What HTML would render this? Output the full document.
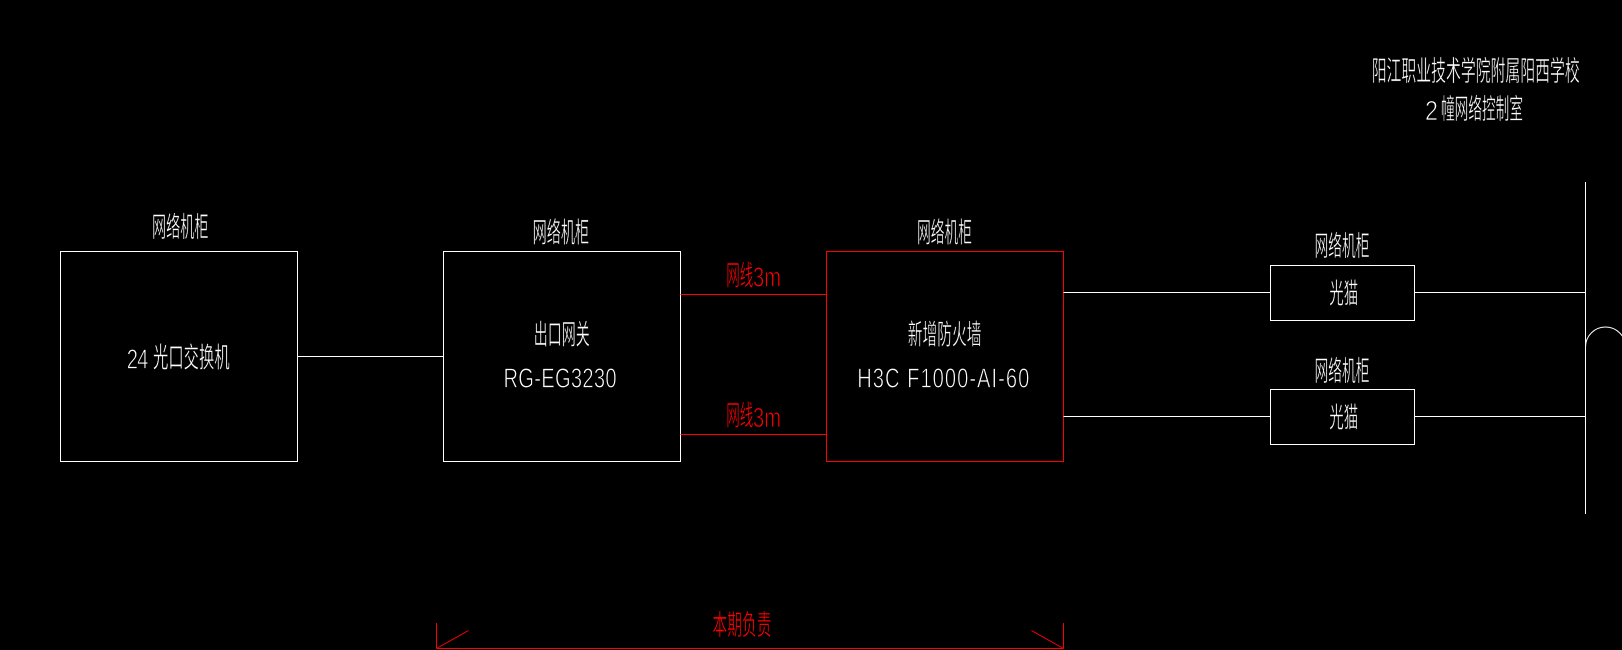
<!DOCTYPE html>
<html><head><meta charset="utf-8"><style>
html,body{margin:0;padding:0;background:#000;width:1622px;height:650px;overflow:hidden}
svg{display:block}
text{font-family:"Noto Sans CJK SC","WenQuanYi Zen Hei",sans-serif;font-size:28px;fill:#fff;stroke:#000;stroke-width:.5px}
text.l{font-family:"Liberation Sans",sans-serif;stroke-width:.8px}
text.r{fill:#f00}
.w{stroke:#fff;stroke-width:1;fill:none;shape-rendering:crispEdges}
.o{stroke:#f00;stroke-width:1;fill:none;shape-rendering:crispEdges}
</style></head><body>
<svg xmlns="http://www.w3.org/2000/svg" width="1622" height="650" viewBox="0 0 1622 650">
<rect width="1622" height="650" fill="#000"/>
<rect class="w" x="60.5" y="251.5" width="237" height="210"/>
<rect class="w" x="443.5" y="251.5" width="237" height="210"/>
<rect class="o" x="826.5" y="251.5" width="237" height="210"/>
<rect class="w" x="1270.5" y="265.5" width="144" height="55"/>
<rect class="w" x="1270.5" y="389.5" width="144" height="55"/>
<path class="w" d="M297.5 356.5H443.5M1063.5 292.5H1270.5M1063.5 416.5H1270.5M1414.5 292.5H1585.5M1414.5 416.5H1585.5M1585.5 182V514"/>
<path class="o" d="M680.5 294.5H826.5M680.5 434.5H826.5M436.5 623V648.5M1063.5 623V648.5M436.5 648.5H1063.5"/>
<path d="M436.5 648.5L468.5 630.5M1063.5 648.5L1031.5 630.5" stroke="#f00" stroke-width="1" fill="none"/>
<path d="M1585.5 347A20 20 0 0 1 1625.5 347" stroke="#fff" stroke-width="1" fill="none"/>

<text x="1371.7" y="80.5" textLength="208" lengthAdjust="spacingAndGlyphs">阳江职业技术学院附属阳西学校</text>
<text class="l" x="1425" y="120" textLength="13" lengthAdjust="spacingAndGlyphs">2</text>
<text x="1441" y="118.5" textLength="82" lengthAdjust="spacingAndGlyphs">幢网络控制室</text>

<text x="152" y="236.5" textLength="56.5" lengthAdjust="spacingAndGlyphs">网络机柜</text>
<text x="532.6" y="242" textLength="56.5" lengthAdjust="spacingAndGlyphs">网络机柜</text>
<text x="917" y="242" textLength="55" lengthAdjust="spacingAndGlyphs">网络机柜</text>
<text x="1314.5" y="255.5" textLength="55" lengthAdjust="spacingAndGlyphs">网络机柜</text>
<text x="1314.5" y="380.5" textLength="55" lengthAdjust="spacingAndGlyphs">网络机柜</text>

<text class="l" transform="translate(126.7 368.5) scale(.72 1)" textLength="30" lengthAdjust="spacing">24</text>
<text x="153" y="367" textLength="76.7" lengthAdjust="spacingAndGlyphs">光口交换机</text>

<text x="533.8" y="344" textLength="56" lengthAdjust="spacingAndGlyphs">出口网关</text>
<text class="l" transform="translate(503.5 387.5) scale(.72 1)" textLength="157" lengthAdjust="spacing">RG-EG3230</text>

<text x="907.8" y="344" textLength="73.7" lengthAdjust="spacingAndGlyphs">新增防火墙</text>
<text class="l" transform="translate(857.2 387.5) scale(.72 1)" textLength="239" lengthAdjust="spacing">H3C F1000-AI-60</text>

<text class="r" x="726.3" y="285" textLength="27" lengthAdjust="spacingAndGlyphs">网线</text>
<text class="l r" transform="translate(753 286.5) scale(.72 1)" textLength="39" lengthAdjust="spacing">3m</text>
<text class="r" x="726.3" y="425" textLength="27" lengthAdjust="spacingAndGlyphs">网线</text>
<text class="l r" transform="translate(753 427) scale(.72 1)" textLength="39" lengthAdjust="spacing">3m</text>

<text x="1329.3" y="303" textLength="29" lengthAdjust="spacingAndGlyphs">光猫</text>
<text x="1329.3" y="427" textLength="29" lengthAdjust="spacingAndGlyphs">光猫</text>

<text class="r" x="712.5" y="634.5" textLength="59" lengthAdjust="spacingAndGlyphs">本期负责</text>
</svg>
</body></html>
